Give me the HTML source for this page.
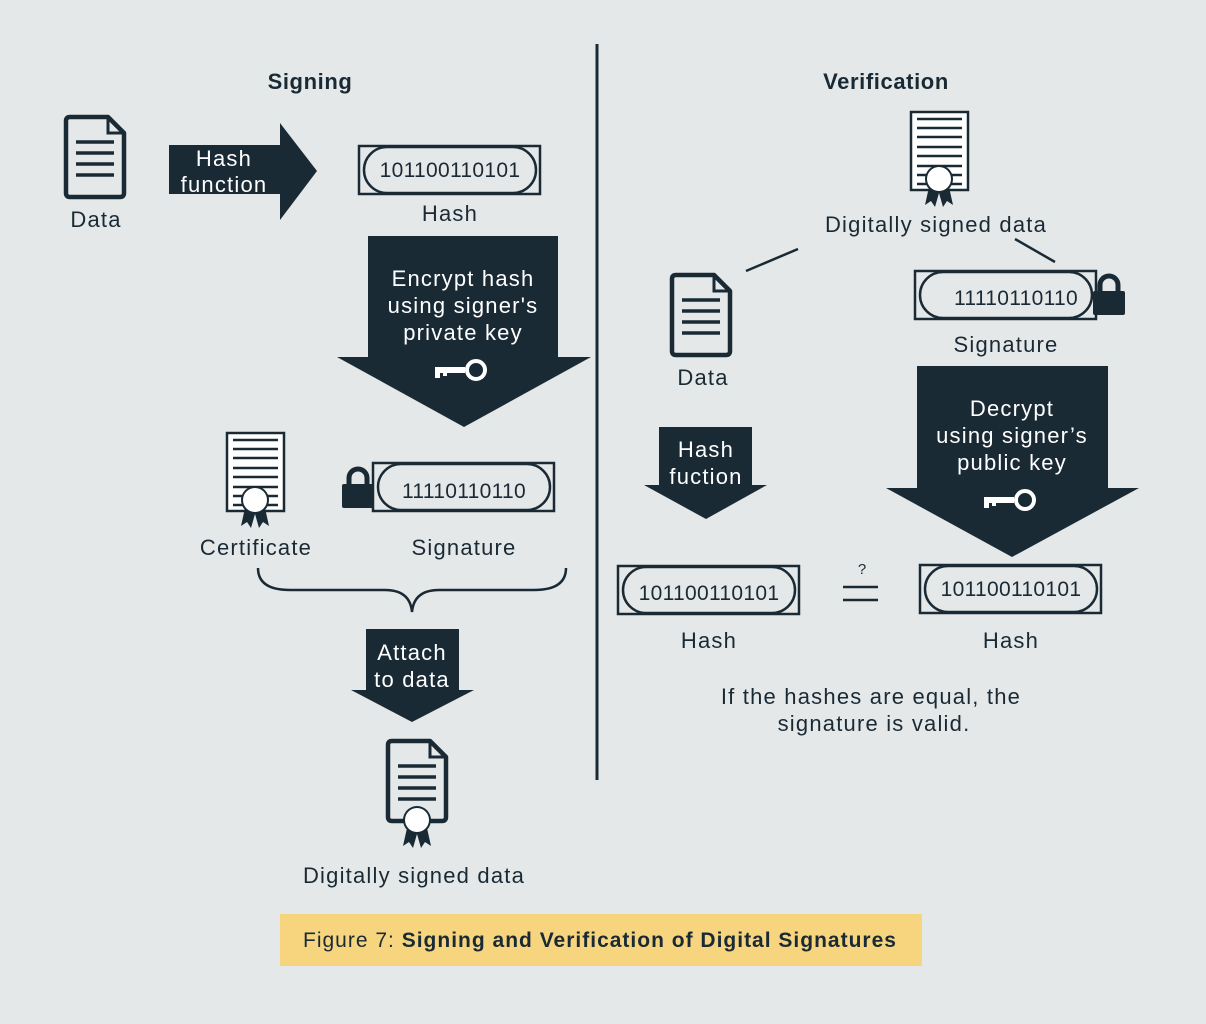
<!DOCTYPE html>
<html><head><meta charset="utf-8">
<style>
html,body{margin:0;padding:0;background:#e5e8e9;}
svg{display:block;}
text{font-family:"Liberation Sans",sans-serif;fill:#1a2a35;}
.l{font-size:22px;letter-spacing:1.2px;}
.n{font-size:21px;letter-spacing:0.3px;}
.w{fill:#fff;}
</style></head>
<body>
<svg width="1206" height="1024" viewBox="0 0 1206 1024" xmlns="http://www.w3.org/2000/svg">
<defs>
  <g id="doc">
    <path d="M2,6 Q2,2 6,2 H44 L60,18 V78 Q60,82 56,82 H6 Q2,82 2,78 Z" fill="none" stroke="#1a2a35" stroke-width="4.5" stroke-linejoin="round"/>
    <path d="M44,2 V18 H60" fill="none" stroke="#1a2a35" stroke-width="3"/>
    <g stroke="#1a2a35" stroke-width="3.5">
      <line x1="12" y1="27" x2="50" y2="27"/><line x1="12" y1="38" x2="50" y2="38"/>
      <line x1="12" y1="49" x2="50" y2="49"/><line x1="12" y1="60" x2="50" y2="60"/>
    </g>
  </g>
  <g id="seal">
    <path d="M-10,8 L-14,26 L-8,22 L-4,28 L0,14 L4,28 L8,22 L14,26 L10,8 Z" fill="#1a2a35"/>
    <circle cx="0" cy="0" r="14" fill="#1a2a35"/>
    <circle cx="0" cy="0" r="12" fill="#fff"/>
  </g>
  <g id="cert">
    <rect x="1" y="1" width="57" height="78" fill="#fff" stroke="#1a2a35" stroke-width="2.5"/>
    <g stroke="#1a2a35" stroke-width="2.5">
      <line x1="7" y1="8" x2="52" y2="8"/><line x1="7" y1="17" x2="52" y2="17"/>
      <line x1="7" y1="26" x2="52" y2="26"/><line x1="7" y1="36" x2="52" y2="36"/>
      <line x1="7" y1="45" x2="52" y2="45"/><line x1="7" y1="55" x2="52" y2="55"/>
      <line x1="7" y1="64" x2="52" y2="64"/><line x1="7" y1="73" x2="52" y2="73"/>
    </g>
    <use href="#seal" x="29" y="68"/>
  </g>
  <g id="hbox">
    <rect x="1" y="1" width="181" height="48" fill="none" stroke="#1a2a35" stroke-width="2.5"/>
    <rect x="6" y="2" width="172" height="46" rx="23" fill="#e5e8e9" stroke="#1a2a35" stroke-width="2.5"/>
  </g>
  <g id="lock">
    <path d="M7,16 V10 A9,9 0 0 1 25,10 V16" fill="none" stroke="#1a2a35" stroke-width="5"/>
    <rect x="0" y="16" width="32" height="24" rx="2" fill="#1a2a35"/>
  </g>
  <g id="key">
    <rect x="0" y="-3" width="30" height="6" fill="#fff"/>
    <rect x="0" y="0" width="5" height="8" fill="#fff"/>
    <rect x="8" y="0" width="4" height="6" fill="#fff"/>
    <circle cx="41" cy="0" r="9" fill="none" stroke="#fff" stroke-width="4"/>
  </g>
</defs>

<line x1="597" y1="44" x2="597" y2="780" stroke="#1a2a35" stroke-width="3"/>

<text x="310" y="89" font-size="22" font-weight="bold" text-anchor="middle" letter-spacing="0.6">Signing</text>
<text x="886" y="89" font-size="22" font-weight="bold" text-anchor="middle" letter-spacing="0.6">Verification</text>

<!-- LEFT -->
<use href="#doc" x="64" y="115"/>
<text x="96" y="227" class="l" text-anchor="middle">Data</text>

<path d="M169,145 H280 V123 L317,171 L280,220 V194 H169 Z" fill="#1a2a35"/>
<text x="224" y="166" class="l w" text-anchor="middle">Hash</text>
<text x="224" y="192" class="l w" text-anchor="middle">function</text>

<use href="#hbox" x="358" y="145"/>
<text x="450" y="177" class="n" text-anchor="middle">101100110101</text>
<text x="450" y="221" class="l" text-anchor="middle">Hash</text>

<path d="M368,236 H558 V357 H591 L464,427 L337,357 H368 Z" fill="#1a2a35"/>
<text x="463" y="286" class="l w" text-anchor="middle">Encrypt hash</text>
<text x="463" y="313" class="l w" text-anchor="middle">using signer's</text>
<text x="463" y="340" class="l w" text-anchor="middle">private key</text>
<use href="#key" x="435" y="370"/>

<use href="#cert" x="226" y="432"/>
<text x="256" y="555" class="l" text-anchor="middle">Certificate</text>
<use href="#lock" x="342" y="468"/>
<use href="#hbox" x="372" y="462"/>
<text x="464" y="498" class="n" text-anchor="middle">11110110110</text>
<text x="464" y="555" class="l" text-anchor="middle">Signature</text>

<path d="M258,568 Q258,590 290,590 H385 Q410,590 412,612 Q414,590 439,590 H534 Q566,590 566,568" fill="none" stroke="#1a2a35" stroke-width="2.5"/>

<path d="M366,629 H459 V690 H474 L412,722 L351,690 H366 Z" fill="#1a2a35"/>
<text x="412" y="660" class="l w" text-anchor="middle">Attach</text>
<text x="412" y="687" class="l w" text-anchor="middle">to data</text>

<use href="#doc" x="386" y="739"/>
<use href="#seal" x="417" y="820"/>
<text x="414" y="883" class="l" text-anchor="middle">Digitally signed data</text>

<!-- RIGHT -->
<use href="#cert" x="910" y="111"/>
<text x="936" y="232" class="l" text-anchor="middle">Digitally signed data</text>
<line x1="746" y1="271" x2="798" y2="249" stroke="#1a2a35" stroke-width="2.5"/>
<line x1="1015" y1="239" x2="1055" y2="262" stroke="#1a2a35" stroke-width="2.5"/>

<use href="#doc" x="670" y="273"/>
<text x="703" y="385" class="l" text-anchor="middle">Data</text>

<use href="#hbox" x="914" y="270"/>
<text x="1016" y="305" class="n" text-anchor="middle">11110110110</text>
<use href="#lock" x="1093" y="275"/>
<text x="1006" y="352" class="l" text-anchor="middle">Signature</text>

<path d="M917,366 H1108 V488 H1139 L1012,557 L886,488 H917 Z" fill="#1a2a35"/>
<text x="1012" y="416" class="l w" text-anchor="middle">Decrypt</text>
<text x="1012" y="443" class="l w" text-anchor="middle">using signer’s</text>
<text x="1012" y="470" class="l w" text-anchor="middle">public key</text>
<use href="#key" x="984" y="500"/>

<path d="M659,427 H752 V485 H767 L706,519 L644,485 H659 Z" fill="#1a2a35"/>
<text x="706" y="457" class="l w" text-anchor="middle">Hash</text>
<text x="706" y="484" class="l w" text-anchor="middle">fuction</text>

<use href="#hbox" x="617" y="565"/>
<text x="709" y="600" class="n" text-anchor="middle">101100110101</text>
<text x="709" y="648" class="l" text-anchor="middle">Hash</text>

<text x="862" y="574" font-size="15" text-anchor="middle">?</text>
<line x1="843" y1="587" x2="878" y2="587" stroke="#1a2a35" stroke-width="2.5"/>
<line x1="843" y1="600" x2="878" y2="600" stroke="#1a2a35" stroke-width="2.5"/>

<use href="#hbox" x="919" y="564"/>
<text x="1011" y="596" class="n" text-anchor="middle">101100110101</text>
<text x="1011" y="648" class="l" text-anchor="middle">Hash</text>

<text x="871" y="704" class="l" text-anchor="middle">If the hashes are equal, the</text>
<text x="874" y="731" class="l" text-anchor="middle">signature is valid.</text>

<rect x="280" y="914" width="642" height="52" fill="#f7d57e"/>
<text x="303" y="947" font-size="21" letter-spacing="1">Figure 7: <tspan font-weight="bold">Signing and Verification of Digital Signatures</tspan></text>
</svg>
</body></html>
